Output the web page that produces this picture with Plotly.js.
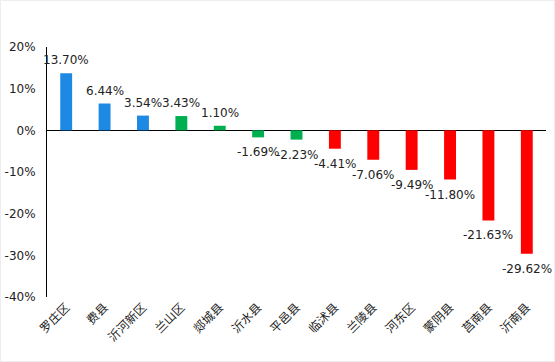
<!DOCTYPE html>
<html><head><meta charset="utf-8">
<script src="https://cdn.plot.ly/plotly-3.0.1.min.js"></script>
<style>html,body{margin:0;padding:0;background:#fff}#c{width:555px;height:362px;box-sizing:border-box;border:1px solid #eeeeee}</style>
</head><body><div id="c"></div>
<script>
var categories = ["罗庄区","费县","沂河新区","兰山区","郯城县","沂水县","平邑县","临沭县","兰陵县","河东区","蒙阴县","莒南县","沂南县"];
var values = [13.70, 6.44, 3.54, 3.43, 1.10, -1.69, -2.23, -4.41, -7.06, -9.49, -11.80, -21.63, -29.62];
var colors = ["#1e88e5","#1e88e5","#1e88e5","#00b050","#00b050","#00b050","#00b050","#ff0000","#ff0000","#ff0000","#ff0000","#ff0000","#ff0000"];
var yTicks = [-40,-30,-20,-10,0,10,20];
var yTickText = yTicks.map(function(v){return v+"%";});

var annotations = categories.map(function(c,i){
  var v = values[i];
  return {x:c, y:v, xref:'x', yref:'y', text:v.toFixed(2)+"%", showarrow:false,
    yshift: v>=0 ? 13 : -15, font:{size:12, color:'#222', family:'DejaVu Sans, sans-serif'}};
});

Plotly.newPlot('c', [{
  type:'bar', x:categories, y:values, marker:{color:colors}, width:0.31, hoverinfo:'none'
}], {
  width:553, height:360,
  margin:{l:46, r:8, t:46, b:64},
  paper_bgcolor:'#fff', plot_bgcolor:'#fff',
  showlegend:false,
  font:{family:'DejaVu Sans, sans-serif', size:12, color:'#222'},
  xaxis:{type:'category', range:[-0.5, categories.length-0.5], tickangle:-45, showgrid:false, showline:false, zeroline:false, ticks:'', automargin:false,
    tickfont:{family:'Noto Sans CJK SC, sans-serif', size:12, color:'#222'}},
  yaxis:{range:[-40,20], tickvals:yTicks, ticktext:yTickText, showgrid:false, showline:true, linecolor:'#000', linewidth:1, automargin:false,
    zeroline:true, zerolinecolor:'#000', zerolinewidth:1, ticks:'', ticklabelstandoff:8, tickfont:{size:12, color:'#222'}},
  annotations:annotations
}, {displayModeBar:false, staticPlot:true});
</script></body></html>
